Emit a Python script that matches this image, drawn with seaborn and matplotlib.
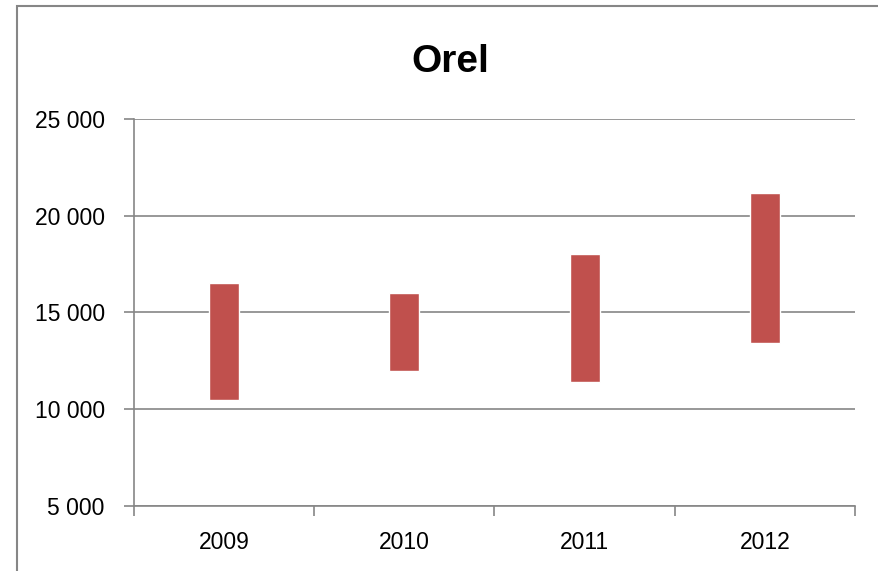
import numpy as np
import pandas as pd
import matplotlib
matplotlib.use('Agg')
import matplotlib.pyplot as plt
import seaborn as sns
from matplotlib.patches import Rectangle
from matplotlib.ticker import FuncFormatter

# data
years = ['2009', '2010', '2011', '2012']
low = [10500, 12000, 11400, 13400]
high = [16500, 16000, 18000, 21200]

df = pd.DataFrame({'Year': years, 'Low': low, 'High': high})
df['Range'] = df['High'] - df['Low']

sns.set_style('white')
plt.rcParams['font.family'] = ['Liberation Sans', 'DejaVu Sans']
plt.rcParams['text.color'] = 'black'
plt.rcParams['xtick.color'] = 'black'
plt.rcParams['ytick.color'] = 'black'

fig = plt.figure(figsize=(8.79, 5.71), dpi=100)
ax = fig.add_axes([134/879, 1 - 506/571, (855 - 134)/879, (506 - 119)/571])

sns.barplot(data=df, x='Year', y='Range', bottom=df['Low'].values,
            color='#C0504D', saturation=1, width=0.167, ax=ax, zorder=3)

ax.set_ylim(5000, 25000)
ax.set_xlim(-0.5, 3.5)
ax.set_yticks(np.arange(5000, 25001, 5000))
ax.yaxis.set_major_formatter(FuncFormatter(lambda v, p: f'{int(v):,}'.replace(',', ' ')))
ax.grid(axis='y', color='#868686', linewidth=1.2, zorder=0)
ax.set_axisbelow(True)

for s in ['top', 'right']:
    ax.spines[s].set_visible(False)
for s in ['left', 'bottom']:
    ax.spines[s].set_color('#868686')
    ax.spines[s].set_linewidth(1.2)

# category boundaries get the x ticks, labels in between
ax.set_xticks(np.arange(-0.5, 3.6, 1))
ax.set_xticklabels([])
ax.set_xticks(range(4), minor=True)
ax.set_xticklabels(years, minor=True)
ax.tick_params(axis='x', which='major', direction='out', length=7, color='#868686', width=1.2, bottom=True)
ax.tick_params(axis='x', which='minor', length=0, labelsize=16.5, pad=18, labelcolor='black')
ax.tick_params(axis='y', direction='out', length=7, color='#868686', width=1.2, left=True,
               labelsize=16.5, pad=14, labelcolor='black')
ax.set_xlabel('')
ax.set_ylabel('')

fig.text(450/879, 1 - 72/571, 'Orel', ha='center', va='baseline', fontsize=28,
         fontweight='bold', color='black')

fig.patches.append(Rectangle((17/879, -0.1), 1.2, 1 - 6/571 + 0.1, transform=fig.transFigure,
                             fill=False, edgecolor='#868686', linewidth=1.5))

fig.savefig('out.png', dpi=100)
